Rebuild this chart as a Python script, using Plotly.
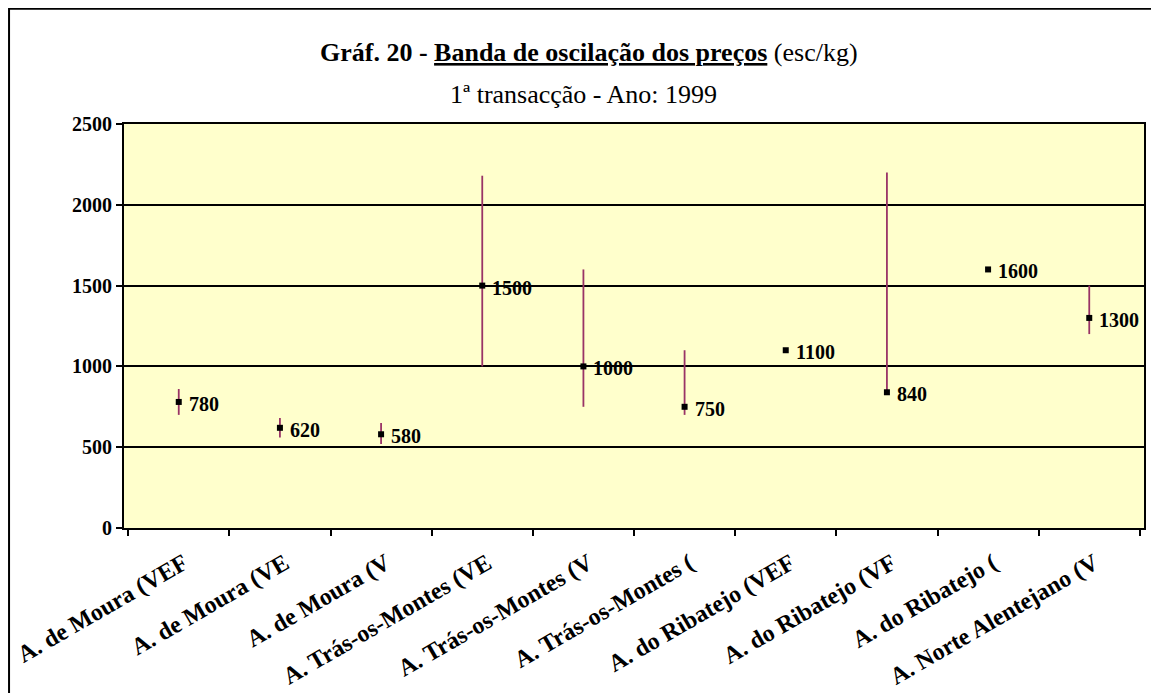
import plotly.graph_objects as go

# Categories as shown (labels are cut off in the original chart)
categories = [
    "A. de Moura (VEF", "A. de Moura (VE", "A. de Moura (V",
    "A. Trás-os-Montes (VE", "A. Trás-os-Montes (V", "A. Trás-os-Montes (",
    "A. do Ribatejo (VEF", "A. do Ribatejo (VF", "A. do Ribatejo (",
    "A. Norte Alentejano (V",
]
price_low = [700, 560, 520, 1000, 750, 700, 1100, 840, 1600, 1200]
price_high = [860, 680, 650, 2180, 1600, 1100, 1100, 2200, 1600, 1500]
price_mode = [780, 620, 580, 1500, 1000, 750, 1100, 840, 1600, 1300]
y_ticks = [0, 500, 1000, 1500, 2000, 2500]

serif = "Liberation Serif, Times New Roman, serif"
plum = "#993366"

fig = go.Figure()

# high-low band drawn as error bars without caps
fig.add_trace(go.Scatter(
    x=categories,
    y=price_mode,
    mode="markers",
    marker=dict(symbol="square", size=6, color="black"),
    error_y=dict(
        type="data",
        symmetric=False,
        array=[h - m for h, m in zip(price_high, price_mode)],
        arrayminus=[m - l for m, l in zip(price_mode, price_low)],
        color=plum,
        thickness=1.8,
        width=0,
    ),
    showlegend=False,
))

# value labels to the right of each point
for cat, val in zip(categories, price_mode):
    fig.add_annotation(
        x=cat, y=val, text=f"<b>{val}</b>",
        xanchor="left", yanchor="middle", xshift=8, yshift=-2,
        showarrow=False, font=dict(family=serif, size=20, color="black"),
    )

# title and subtitle
fig.add_annotation(
    xref="paper", yref="paper", x=0.456, y=1.178, xanchor="center", yanchor="middle",
    text='<b>Gráf. 20 - <span style="text-decoration:underline">Banda de oscilação dos preços</span></b> (esc/kg)',
    showarrow=False, font=dict(family=serif, size=26, color="black"),
)
fig.add_annotation(
    xref="paper", yref="paper", x=0.45, y=1.072, xanchor="center", yanchor="middle",
    text="1ª transacção - Ano: 1999",
    showarrow=False, font=dict(family=serif, size=26, color="black"),
)

# outer chart frame (only top and left edges fall inside the picture)
fig.add_shape(
    type="rect", xref="paper", yref="paper",
    x0=-0.1127, x1=1.2, y0=-0.6, y1=1.285,
    line=dict(color="black", width=2), layer="below",
)

fig.update_layout(
    width=1159,
    height=693,
    margin=dict(l=116, r=23, t=116, b=173),
    paper_bgcolor="white",
    plot_bgcolor="#FFFFCC",
    font=dict(family=serif, color="black"),
    xaxis=dict(
        type="category",
        automargin=False,
        tickson="boundaries",
        ticks="outside",
        ticklen=6,
        tickcolor="black",
        tickwidth=1.5,
        tickangle=-30,
        ticklabelstandoff=10,
        ticklabelshift=5,
        tickfont=dict(family=serif, size=24, color="black", weight="bold"),
        showline=True,
        linecolor="black",
        linewidth=2,
        mirror=True,
        showgrid=False,
    ),
    yaxis=dict(
        range=[0, 2500],
        automargin=False,
        tickvals=y_ticks,
        ticks="outside",
        ticklen=6,
        tickcolor="black",
        tickwidth=1.5,
        tickfont=dict(family=serif, size=20, color="black", weight="bold"),
        showline=True,
        linecolor="black",
        linewidth=2,
        mirror=True,
        showgrid=True,
        gridcolor="black",
        gridwidth=1.5,
        zeroline=False,
    ),
)

fig.write_html("out.html")
